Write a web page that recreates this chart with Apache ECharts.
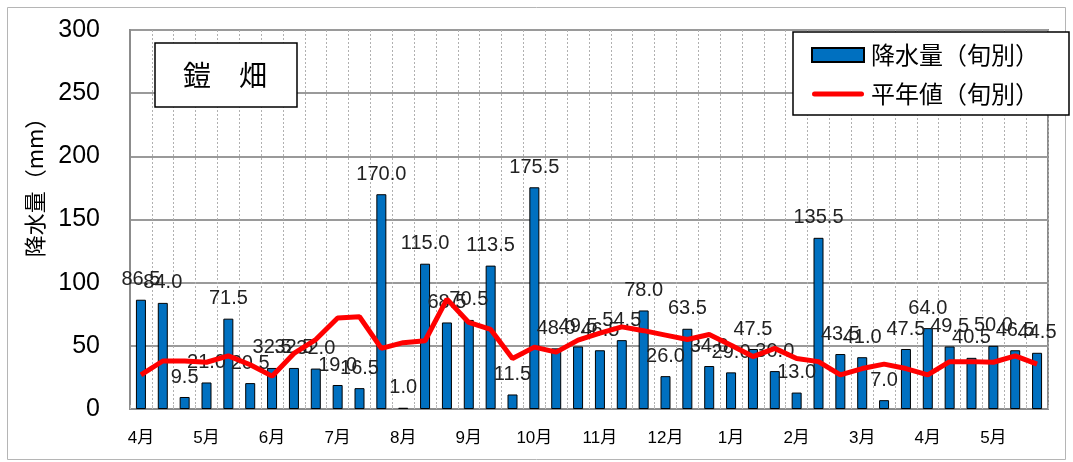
<!DOCTYPE html>
<html><head><meta charset="utf-8">
<script src="https://cdn.jsdelivr.net/npm/echarts@6/dist/echarts.min.js"></script>
<style>html,body{margin:0;padding:0;background:#fff}#c{width:1073px;height:462px}</style>
</head><body><div id="c"></div>
<script>
// Months (Apr → May of next year), each split into three dekads (旬)
const months = ['4月','5月','6月','7月','8月','9月','10月','11月','12月','1月','2月','3月','4月','5月'];
const dekads = ['上旬','中旬','下旬'];
// 降水量(旬別) mm
const precipitation = [
  86.5, 84.0, 9.5,
  21.0, 71.5, 20.5,
  32.5, 32.5, 32.0,
  19.0, 16.5, 170.0,
  1.0, 115.0, 68.5,
  70.5, 113.5, 11.5,
  175.5, 48.0, 49.5,
  46.5, 54.5, 78.0,
  26.0, 63.5, 34.0,
  29.0, 47.5, 30.0,
  13.0, 135.5, 43.5,
  41.0, 7.0, 47.5,
  64.0, 49.5, 40.5,
  50.0, 46.5, 44.5
];
// 平年値(旬別) mm
const normals = [
  27, 38, 38,
  37, 42, 35,
  26, 44, 55,
  72, 73, 48,
  52.5, 54, 87,
  68.5, 63, 40,
  49, 45, 54.5,
  60, 65, 62,
  58.5, 55, 59,
  50.5, 41.5, 48,
  40, 37.5, 27,
  32, 35.5, 32,
  27, 37.5, 37.5,
  37, 42, 35.5
];
const stationName = '鎧\u3000畑';
const yAxisName = '降水量（mm）';
const barName = '降水量（旬別）';
const lineName = '平年値（旬別）';

const categories = months.flatMap(m => dekads.map(d => m + d));

const chart = echarts.init(document.getElementById('c'));
const latin = "'Liberation Sans', Arial, 'Noto Sans CJK JP', sans-serif";
const cjk = "'Noto Sans CJK JP', 'Liberation Sans', sans-serif";

chart.setOption({
  backgroundColor: '#fff',
  animation: false,
  grid: { left: 130, right: 25, top: 30, bottom: 53, show: true, borderColor: '#8c8c8c', borderWidth: 2 },
  xAxis: {
    type: 'category',
    data: categories,
    boundaryGap: true,
    axisLine: { lineStyle: { color: '#8c8c8c', width: 2 } },
    axisTick: { show: true, inside: true, length: 4, interval: 0, lineStyle: { color: '#bbb' } },
    axisLabel: {
      interval: 0, margin: 21, color: '#000', fontSize: 17, fontFamily: latin,
      formatter: (v, i) => (i % 3 === 0 ? months[i / 3] : '')
    },
    splitLine: { show: true, interval: 0, lineStyle: { color: '#b0b0b0', type: [2, 2], width: 1 } }
  },
  yAxis: {
    type: 'value', min: 0, max: 300, interval: 50,
    axisLine: { show: true, lineStyle: { color: '#8c8c8c', width: 2 } },
    axisTick: { show: false },
    axisLabel: { color: '#000', fontSize: 25, margin: 30, fontFamily: latin },
    splitLine: { show: true, lineStyle: { color: '#9a9a9a', width: 2 } }
  },
  legend: {
    orient: 'vertical',
    left: 793, top: 32,
    padding: [11, 30, 9, 18],
    itemGap: 15,
    itemWidth: 52, itemHeight: 14,
    backgroundColor: '#fff',
    borderColor: '#000', borderWidth: 1.5,
    textStyle: { fontSize: 24, color: '#000', fontFamily: cjk, padding: [0, 0, 0, 2] },
    data: [
      { name: barName, icon: 'rect' },
      { name: lineName, icon: 'path://M2.5,0H49.5A2.5,2.5,0,0,1,49.5,5H2.5A2.5,2.5,0,0,1,2.5,0Z',
        itemStyle: { color: '#FF0000', borderWidth: 0 } }
    ]
  },
  graphic: [
    { type: 'rect', z: -10, silent: true,
      shape: { x: 7.5, y: 7.5, width: 1058, height: 452 },
      style: { fill: 'none', stroke: '#b5b5b5', lineWidth: 1 } },
    { type: 'rect', z: 100,
      shape: { x: 155, y: 43, width: 142, height: 64 },
      style: { fill: '#fff', stroke: '#000', lineWidth: 1.5 } },
    { type: 'text', z: 101, x: 225, y: 75,
      style: { text: stationName, font: "28px 'Noto Sans CJK JP', sans-serif", fill: '#000', align: 'center', verticalAlign: 'middle' } },
    { type: 'text', z: 101, x: 35, y: 182, rotation: Math.PI / 2,
      style: { text: yAxisName, font: "22px 'Noto Sans CJK JP', sans-serif", fill: '#000', align: 'center', verticalAlign: 'middle' } }
  ],
  series: [
    {
      name: barName, type: 'bar', data: precipitation, barWidth: 10,
      itemStyle: { color: '#0070C0', borderColor: '#000', borderWidth: 1 },
      label: {
        show: true, position: 'top', distance: 10,
        fontSize: 20, color: '#222', fontFamily: latin,
        formatter: p => p.value.toFixed(1)
      },
      z: 2
    },
    {
      name: lineName, type: 'line', data: normals,
      symbol: 'none', smooth: false,
      lineStyle: { color: '#FF0000', width: 5 },
      itemStyle: { color: '#FF0000' },
      z: 3
    }
  ]
});
</script></body></html>
